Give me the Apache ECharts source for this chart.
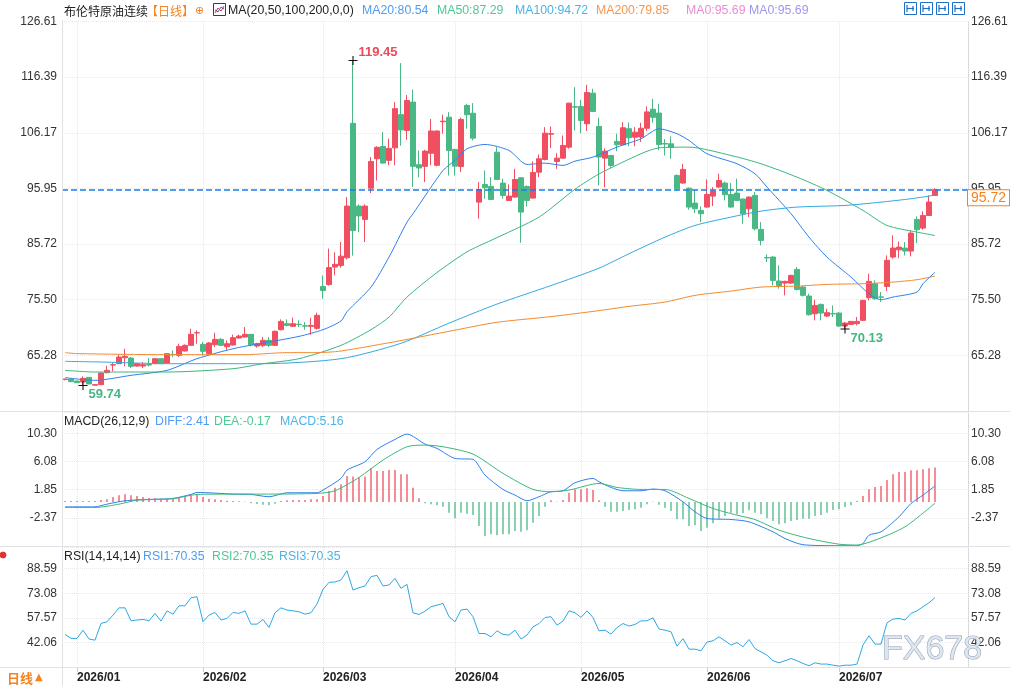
<!DOCTYPE html>
<html>
<head>
<meta charset="utf-8">
<title>布伦特原油连续</title>
<script src="https://cdn.jsdelivr.net/npm/echarts@6/dist/echarts.min.js"></script>
<style>
html, body { margin: 0; padding: 0; background: #fff; }
#chart { width: 1010px; height: 686px; }
</style>
</head>
<body>
<div id="chart"></div>
<script>
// trading days: weekdays 2025/12/30 .. 2026/07/23 minus exchange holidays
const holidays = ['2026/01/01', '2026/04/03'];
const padSlots = 5; // empty room right of the last bar

// [open, close, low, high]
const candles = [
  [60.85,60.90,60.70,61.00],[60.94,60.45,60.40,61.00],[60.57,60.26,60.20,60.60],[60.38,61.06,59.74,61.42],
  [61.24,60.02,60.00,61.30],[59.80,59.90,59.78,59.95],[59.89,62.04,59.85,62.10],[62.10,62.53,62.00,63.38],
  [63.50,63.57,62.34,63.87],[63.75,64.97,63.70,65.46],[64.85,65.10,63.26,66.50],[64.79,63.26,62.95,64.97],
  [63.32,63.75,63.20,63.80],[63.32,63.57,62.95,64.06],[63.60,63.50,63.26,64.79],[63.75,64.67,63.70,64.70],
  [64.67,63.75,63.70,64.70],[63.87,65.59,63.80,65.71],[65.45,65.40,64.97,66.20],[65.28,66.93,64.97,67.42],
  [66.08,67.12,66.00,67.30],[67.12,69.14,67.10,70.18],[69.40,69.44,67.42,69.87],[67.30,66.02,65.28,67.73],
  [65.59,67.55,65.28,67.73],[67.24,68.22,66.81,69.44],[68.22,67.12,67.10,68.46],[66.87,67.42,66.32,68.04],
  [67.18,68.53,67.10,69.08],[68.46,68.83,68.34,69.08],[68.65,69.14,68.53,70.48],[69.14,67.24,66.93,69.20],
  [66.99,67.42,66.69,67.61],[67.12,68.04,66.81,68.65],[68.04,67.12,66.81,68.65],[67.12,69.69,66.99,69.87],
  [69.99,71.52,69.87,71.89],[71.10,70.79,70.61,71.89],[70.61,71.10,70.48,72.20],[71.00,70.94,70.48,71.71],
  [70.70,70.65,69.99,71.40],[70.61,70.79,69.08,72.14],[70.24,72.63,69.99,73.12],[77.95,77.20,75.70,79.97],
  [78.30,81.40,78.10,84.90],[81.50,82.00,80.00,84.20],[81.80,83.50,81.40,86.10],[83.20,92.70,82.90,94.35],
  [107.90,88.20,83.60,119.45],[92.70,90.90,87.90,93.00],[90.25,92.70,86.10,93.00],[96.00,100.90,95.10,101.70],
  [101.40,103.50,97.40,103.70],[103.66,100.60,100.50,106.30],[101.10,103.30,100.20,105.10],[103.40,110.60,100.20,111.80],
  [109.50,106.70,103.80,118.96],[106.60,112.10,104.90,113.10],[111.80,100.00,96.20,114.10],[100.30,99.70,98.00,102.90],
  [100.00,102.80,97.10,103.05],[102.40,106.50,100.20,108.70],[100.20,106.50,100.00,106.60],[108.20,108.30,106.00,109.50],
  [109.04,102.92,98.30,109.96],[103.11,100.04,98.33,103.20],[99.98,108.62,98.94,108.93],[111.19,109.48,106.91,111.50],
  [109.77,105.18,104.76,111.61],[93.43,95.76,90.38,97.10],[96.68,96.07,94.05,99.25],[96.31,93.92,93.90,98.02],
  [102.60,97.59,97.50,103.53],[96.92,94.66,94.05,97.73],[93.74,94.54,93.70,96.68],[94.35,97.59,94.30,99.56],
  [97.90,91.60,85.97,98.00],[96.31,93.74,92.64,96.50],[94.17,98.88,94.10,100.90],[98.94,101.40,98.02,102.19],
  [101.27,106.10,101.09,107.20],[105.90,106.00,103.35,107.33],[100.90,101.51,99.56,102.43],[101.51,103.84,101.40,105.67],
  [103.53,111.61,103.23,111.70],[110.95,110.88,106.60,114.55],[111.00,108.43,106.10,112.23],[107.83,113.57,106.47,114.99],
  [113.45,110.09,110.00,114.25],[107.33,101.70,96.50,108.93],[101.51,102.79,96.19,103.30],[102.00,100.17,99.75,102.10],
  [104.58,103.97,102.79,105.99],[103.97,107.09,103.90,108.12],[106.91,105.26,103.71,108.06],[105.37,106.28,103.71,107.20],
  [105.40,107.00,104.50,108.00],[107.00,110.00,106.50,111.00],[110.50,109.00,108.00,112.40],[109.80,104.00,103.00,111.50],
  [104.20,104.10,102.00,105.00],[104.15,103.50,101.40,105.50],[98.33,95.88,95.50,98.50],[96.93,99.44,96.80,100.47],
  [96.00,92.52,92.03,96.10],[93.25,92.21,91.42,95.70],[91.90,91.30,89.76,92.64],[92.52,94.84,92.40,97.60],
  [94.54,95.46,92.70,96.19],[96.19,97.41,96.10,98.64],[96.93,94.78,93.74,97.20],[94.84,92.52,92.40,96.93],
  [95.09,93.74,93.60,97.72],[93.99,91.29,89.46,94.10],[92.21,94.35,90.68,94.50],[94.66,88.54,88.23,95.27],
  [88.42,86.40,85.48,89.76],[83.25,83.18,82.42,83.83],[83.34,79.05,78.13,83.50],[78.93,78.13,77.52,81.81],
  [78.56,78.87,76.30,79.00],[78.56,79.97,78.40,80.10],[81.07,77.40,77.20,81.50],[77.83,76.30,76.10,78.00],
  [76.18,72.75,72.60,76.60],[72.93,74.46,71.71,75.50],[74.64,73.05,71.71,74.80],[72.50,73.12,72.32,73.85],
  [72.96,72.90,72.32,74.46],[73.05,70.67,70.50,73.20],[70.67,71.22,70.13,71.40],[70.97,71.52,70.90,71.60],
  [71.10,71.52,70.79,72.32],[71.71,75.38,71.60,75.50],[75.87,78.87,75.38,80.28],[78.44,75.69,75.50,79.05],
  [76.02,75.96,75.07,76.91],[77.95,82.73,77.09,83.64],[83.34,84.99,83.03,87.32],[84.68,85.17,83.15,86.21],
  [84.99,84.44,83.64,86.09],[84.44,87.74,83.46,88.23],[90.25,88.36,85.91,90.80],[88.66,90.98,88.36,91.72],
  [90.98,93.44,90.90,94.66],[94.66,95.72,94.60,96.00]
];

// moving averages, read as [bar index, value] at points along each curve
const ma20Pts = [[0,61.19],[5,60.69],[11,61.61],[17,62.53],[22,64.67],[28,66.5],[33,67.54],[39,68.77],[43,70.0],
  [46,71.6],[47,73.3],[51,77.82],[54,83.33],[57,89.76],[58,91.3],[63,99.25],[65,101.09],[67,103.23],[70,104.02],
  [74,102.92],[77,100.35],[80,100.59],[83,100.17],[85,100.96],[88,101.7],[92,103.53],[96,105.07],[99,106.9],
  [102,106.0],[104,104.76],[107,102.32],[112,100.48],[115,98.64],[117,96.19],[121,91.3],[124,87.0],[127,83.33],
  [131,79.66],[134,76.61],[136,75.5],[138,75.99],[142,76.9],[143,78.44],[145,80.54]];
const ma50Pts = [[0,62.53],[5,62.22],[17,62.22],[28,62.83],[33,63.75],[39,64.67],[46,67.12],[51,70.0],[54,72.31],
  [57,75.99],[62,80.5],[67,84.3],[71,86.4],[79,90.68],[85,95.8],[89,98.6],[96,102.32],[99,103.4],[104,103.53],
  [111,102.0],[116,100.48],[122,98.02],[127,95.58],[133,91.9],[137,89.15],[142,87.92],[145,87.29]];
const ma100Pts = [[0,64.18],[6,64.06],[17,63.75],[33,63.75],[46,64.67],[56,67.5],[64,71.2],[72,74.7],[81,78.1],
  [89,81.3],[94,83.95],[100,87.0],[105,89.15],[111,90.68],[116,91.78],[122,92.52],[130,92.82],[136,93.43],
  [141,94.05],[145,94.72]];
const ma200Pts = [[0,65.78],[2,65.6],[17,65.41],[30,65.41],[37,65.78],[42,65.78],[46,66.08],[56,68.0],[64,69.7],
  [72,71.35],[81,72.4],[89,73.5],[94,74.28],[100,75.07],[105,76.3],[111,77.09],[116,77.82],[122,78.0],[127,78.32],
  [133,78.44],[138,78.74],[142,79.18],[145,79.85]];
const ma0Label = '95.69';

// MACD(26,12,9)
const macdHist = [
  0.15,0.15,0.15,0.15,0.15,0.15,0.31,0.41,0.76,1.0,1.16,1.0,0.91,0.76,0.61,0.56,0.51,0.51,0.61,0.76,
  0.91,1.0,1.16,0.76,0.51,0.41,0.31,0.2,0.16,0.1,0.05,-0.2,-0.3,-0.4,-0.5,-0.25,0.16,0.25,0.31,0.31,
  0.31,0.41,0.41,0.9,1.66,2.16,2.66,3.91,3.81,3.66,3.81,5.06,4.66,4.66,4.81,4.81,4.16,4.16,2.16,0.56,
  -0.2,-0.35,-0.5,-0.7,-1.6,-2.45,-1.6,-1.75,-1.95,-3.6,-5.1,-4.85,-5.0,-4.85,-4.85,-4.35,-4.45,-4.25,-3.1,-2.1,
  -0.7,0.26,0.05,0.31,1.41,1.91,1.91,2.06,1.81,0.26,-0.7,-1.45,-1.45,-1.35,-1.2,-1.1,-0.85,-0.35,0.05,-0.4,
  -0.85,-1.35,-2.6,-2.6,-3.6,-3.5,-4.35,-3.85,-3.2,-2.5,-2.1,-1.6,-1.85,-1.7,-1.25,-1.6,-1.85,-2.45,-2.85,-3.35,
  -3.2,-2.85,-2.7,-2.5,-2.5,-2.1,-1.95,-1.6,-1.2,-1.1,-0.75,-0.5,0.16,0.91,1.91,2.26,2.41,3.31,4.16,4.51,
  4.51,4.76,4.76,4.91,5.06,5.16
];
const diffPts = [[0,-0.72],[5,-0.72],[7,-0.32],[10,0.19],[14,0.39],[18,0.54],[21,1.14],[22,1.44],[28,1.19],
  [31,1.14],[34,0.79],[37,1.39],[42,1.39],[43,1.79],[46,3.54],[47,4.79],[50,6.04],[52,7.89],[55,9.39],[57,10.19],
  [60,8.69],[62,8.04],[65,6.54],[68,6.39],[70,4.04],[73,1.89],[75,1.04],[77,0.19],[79,0.79],[81,1.54],[83,1.69],
  [85,2.89],[88,3.54],[89,3.04],[91,2.19],[93,1.69],[96,1.69],[98,1.94],[100,1.69],[103,0.03],[105,-1.47],
  [107,-2.47],[111,-2.62],[114,-2.97],[118,-4.47],[120,-5.47],[123,-6.4],[129,-6.55],[132,-6.55],[133,-6.22],
  [134,-4.97],[136,-4.47],[139,-2.22],[141,-0.22],[143,1.04],[145,2.41]];
const deaPts = [[0,-0.82],[5,-0.82],[9,-0.32],[12,0.28],[18,0.49],[22,1.14],[28,1.19],[33,1.19],[42,1.29],
  [45,1.69],[49,3.69],[53,6.29],[57,8.29],[60,8.54],[63,8.29],[68,7.19],[73,4.29],[78,1.89],[81,1.54],[84,1.79],
  [89,2.79],[92,2.19],[96,1.89],[100,1.89],[104,0.54],[108,-0.97],[112,-1.97],[115,-2.62],[119,-4.22],
  [124,-5.47],[129,-6.32],[132,-6.45],[135,-5.72],[140,-3.72],[145,-0.17]];

// RSI(14)
const rsi = [
  47.1,44.6,44.6,49.8,44.2,43.5,54.0,55.1,59.3,63.9,63.9,55.7,56.2,56.6,55.7,60.4,55.5,62.0,59.9,65.2,
  65.2,70.3,70.9,55.1,59.3,61.0,56.2,57.2,61.0,60.4,62.0,53.6,53.6,56.6,51.5,60.8,63.9,62.5,62.0,61.4,
  59.9,60.8,66.3,75.5,80.0,80.2,81.5,87.3,75.1,76.6,77.7,83.6,84.4,77.7,78.3,82.5,76.2,78.7,60.8,59.7,
  61.8,64.6,65.6,66.7,58.3,55.1,62.5,63.1,58.3,47.7,47.7,45.6,49.4,47.1,46.7,49.8,44.2,46.7,51.9,54.0,
  57.8,58.3,53.0,55.5,62.0,60.8,57.8,62.0,57.8,49.4,49.8,47.3,51.5,54.0,52.4,53.4,55.7,55.7,57.6,50.5,
  49.8,48.8,39.7,44.4,37.8,37.8,36.8,42.3,43.1,45.6,43.1,40.4,42.0,39.3,43.9,38.2,36.1,34.0,30.5,29.2,
  30.5,31.9,30.5,28.8,27.3,29.2,28.4,28.4,27.7,27.1,27.7,27.7,28.4,40.4,46.3,41.0,41.0,54.5,56.8,57.2,
  56.2,60.4,62.0,64.6,67.1,70.35
];

// axis scales (labels run from min in steps of step)
const priceMin = 55.06, priceMax = 126.61, priceStep = 10.2214;
const macdMin = -6.5933, macdMax = 13.5, macdStep = 4.2233;
const rsiMin = 26.55, rsiMax = 102.3, rsiStep = 15.51;

// highest high and two swing lows that carry a price tag
const tagged = [[48, 'high'], [3, 'low'], [130, 'low']];

const UP = '#ef4f61', DOWN = '#49b884';
const FONT = 'Arial, "Liberation Sans", "Noto Sans CJK SC", sans-serif';
const HEAD = '12.3px ' + FONT;

function tradingDays() {
  const out = [];
  const d = new Date(2025, 11, 30);
  const end = new Date(2026, 6, 23);
  while (d <= end) {
    const s = d.getFullYear() + '/' + String(d.getMonth() + 1).padStart(2, '0') + '/' + String(d.getDate()).padStart(2, '0');
    const wd = d.getDay();
    if (wd !== 0 && wd !== 6 && holidays.indexOf(s) < 0) out.push(s);
    d.setDate(d.getDate() + 1);
  }
  return out;
}
const days = tradingDays();
const categories = days.concat(new Array(padSlots).fill(''));
const isMonthStart = (idx) => idx > 0 && idx < days.length && days[idx].slice(0, 7) !== days[idx - 1].slice(0, 7);

function sparse(pts) {
  const d = new Array(categories.length).fill(null);
  pts.forEach(p => { d[p[0]] = p[1]; });
  return d;
}

const chart = echarts.init(document.getElementById('chart'), null, { renderer: 'canvas' });

const gridLeft = 62, gridRight = 42;
const grids = [
  { left: gridLeft, right: gridRight, top: 21.5, height: 389.5, outerBoundsMode: 'none' },
  { left: gridLeft, right: gridRight, top: 412, height: 134, outerBoundsMode: 'none' },
  { left: gridLeft, right: gridRight, top: 547, height: 120, outerBoundsMode: 'none' }
];

function xAxisFor(gi) {
  return {
    type: 'category', gridIndex: gi, data: categories, boundaryGap: true,
    axisLine: { show: false },
    axisTick: { show: gi === 2, interval: isMonthStart, alignWithLabel: true, length: 5, lineStyle: { color: '#c8cdd3' } },
    axisLabel: {
      show: gi === 2, interval: isMonthStart, formatter: v => v.slice(0, 7),
      align: 'left', margin: 5, color: '#222', fontSize: 12, fontWeight: 'bold', fontFamily: FONT
    },
    splitLine: { show: true, interval: isMonthStart, alignWithLabel: true, lineStyle: { color: '#e3e6ea', type: 'dotted' } }
  };
}

function yAxisFor(gi, side, min, max, step, showMax) {
  return {
    type: 'value', gridIndex: gi, position: side, min: min, max: max, interval: step, scale: true,
    axisLine: side === 'right' ? { show: true, lineStyle: { color: '#cfd3d8', type: 'dotted' } } : { show: false },
    axisTick: { show: false },
    axisLabel: {
      formatter: v => v.toFixed(2), color: '#333', fontSize: 12, fontFamily: FONT,
      margin: side === 'right' ? 3 : 5, showMinLabel: false, showMaxLabel: showMax
    },
    splitLine: { show: side === 'left', lineStyle: { color: '#e6e8eb', type: 'dotted' } }
  };
}

function maSeries(name, pts, color) {
  return {
    name: name, type: 'line', xAxisIndex: 0, yAxisIndex: 0, data: sparse(pts),
    connectNulls: true, showSymbol: false, smooth: 0.25, silent: true,
    lineStyle: { color: color, width: 1 }, z: 3
  };
}

const lastClose = candles[candles.length - 1][1];
const markData = tagged.map(([i, kind]) => {
  const v = kind === 'high' ? candles[i][3] : candles[i][2];
  return {
    coord: [i, v], value: v.toFixed(2),
    label: {
      show: true, position: 'right', distance: 1, offset: [0, kind === 'high' ? -8 : 9],
      formatter: v.toFixed(2), color: kind === 'high' ? '#ec4a5a' : '#46b682',
      fontSize: 13, fontWeight: 'bold', fontFamily: FONT
    }
  };
});

const lastOf = pts => pts[pts.length - 1][1].toFixed(2);

function txt(x, y, text, fill, font, extra) {
  return Object.assign({
    type: 'text', x: x, y: y, silent: true, z: 50,
    style: { text: text, fill: fill, font: font || HEAD, textVerticalAlign: 'middle' }
  }, extra || {});
}
function hline(y) {
  return { type: 'line', silent: true, z: 40, shape: { x1: 0, y1: y, x2: 1010, y2: y }, style: { stroke: '#dfe3e8', lineWidth: 1 } };
}
function toolBox(x) {
  return {
    type: 'group', x: x, y: 2, silent: true, z: 50,
    children: [
      { type: 'rect', shape: { x: 0.5, y: 0.5, width: 12, height: 12 }, style: { fill: '#fff', stroke: '#1f6fc5', lineWidth: 1 } },
      { type: 'line', shape: { x1: 3, y1: 3, x2: 3, y2: 10 }, style: { stroke: '#1f6fc5', lineWidth: 1.2 } },
      { type: 'line', shape: { x1: 3, y1: 6.5, x2: 10, y2: 6.5 }, style: { stroke: '#1f6fc5', lineWidth: 1.2 } },
      { type: 'line', shape: { x1: 9, y1: 4, x2: 9, y2: 9 }, style: { stroke: '#1f6fc5', lineWidth: 1.2 } }
    ]
  };
}

const graphics = [
  hline(411.5), hline(546.5), hline(667.5),
  { type: 'line', silent: true, z: 40, shape: { x1: 62.5, y1: 20, x2: 62.5, y2: 686 }, style: { stroke: '#dfe3e8', lineWidth: 1 } },
  // title row
  txt(64, 11, '布伦特原油连续', '#222', '12px "Noto Sans CJK SC", sans-serif'),
  txt(146, 11, '【日线】', '#f5831f', '12px "Noto Sans CJK SC", sans-serif'),
  txt(195, 11, '⊕', '#f5831f', '11px "DejaVu Sans", sans-serif'),
  { type: 'group', x: 213, y: 3, silent: true, z: 50, children: [
      { type: 'rect', shape: { x: 0.5, y: 0.5, width: 12, height: 12 }, style: { fill: '#fff', stroke: '#1c3d8c', lineWidth: 1 } },
      { type: 'polyline', shape: { points: [[2, 10], [5, 5], [8, 8], [11, 3]] }, style: { stroke: '#e0303c', fill: null, lineWidth: 1 } },
      { type: 'polyline', shape: { points: [[2, 7], [5, 9], [8, 4], [11, 6]] }, style: { stroke: '#2d6bd8', fill: null, lineWidth: 1 } }
  ] },
  txt(228, 11, 'MA(20,50,100,200,0,0)', '#222'),
  txt(362, 11, 'MA20:' + lastOf(ma20Pts), '#4e9cf3'),
  txt(437, 11, 'MA50:' + lastOf(ma50Pts), '#4ec995'),
  txt(515, 11, 'MA100:' + lastOf(ma100Pts), '#4cb3e6'),
  txt(596, 11, 'MA200:' + lastOf(ma200Pts), '#f7964f'),
  txt(686, 11, 'MA0:' + ma0Label, '#ee8ad4'),
  txt(749, 11, 'MA0:' + ma0Label, '#9d97ee'),
  toolBox(904), toolBox(920), toolBox(936), toolBox(952),
  // MACD row
  txt(64, 422, 'MACD(26,12,9)', '#222'),
  txt(155, 422, 'DIFF:' + lastOf(diffPts), '#4e9cf3'),
  txt(214, 422, 'DEA:' + lastOf(deaPts), '#4ec995'),
  txt(280, 422, 'MACD:' + macdHist[macdHist.length - 1].toFixed(2), '#4cb3e6'),
  // RSI row
  txt(64, 557, 'RSI(14,14,14)', '#222'),
  txt(143, 557, 'RSI1:' + rsi[rsi.length - 1].toFixed(2), '#4e9cf3'),
  txt(212, 557, 'RSI2:' + rsi[rsi.length - 1].toFixed(2), '#4ec995'),
  txt(279, 557, 'RSI3:' + rsi[rsi.length - 1].toFixed(2), '#4cb3e6'),
  { type: 'circle', silent: true, z: 50, shape: { cx: 3, cy: 555, r: 3 }, style: { fill: '#e53030', stroke: '#e53030' } },
  // bottom left
  txt(7, 678, '日线', '#f5831f', 'bold 13px "Noto Sans CJK SC", sans-serif'),
  txt(35, 677, '▲', '#f5831f', '10px "DejaVu Sans", sans-serif'),
  // watermark
  { type: 'text', x: 882, y: 650, silent: true, z: 60,
    style: { text: 'FX678', font: '34px Arial, "Liberation Sans", sans-serif', fill: 'rgba(222,229,238,0.92)',
             stroke: '#8c9fb6', lineWidth: 1, textVerticalAlign: 'middle' } }
];

const option = {
  animation: false,
  backgroundColor: '#fff',
  grid: grids,
  xAxis: [xAxisFor(0), xAxisFor(1), xAxisFor(2)],
  yAxis: [
    yAxisFor(0, 'left', priceMin, priceMax, priceStep, true),
    yAxisFor(0, 'right', priceMin, priceMax, priceStep, true),
    yAxisFor(1, 'left', macdMin, macdMax, macdStep, false),
    yAxisFor(1, 'right', macdMin, macdMax, macdStep, false),
    yAxisFor(2, 'left', rsiMin, rsiMax, rsiStep, false),
    yAxisFor(2, 'right', rsiMin, rsiMax, rsiStep, false)
  ],
  series: [
    {
      name: '布伦特原油连续', type: 'candlestick', xAxisIndex: 0, yAxisIndex: 0, data: candles,
      barWidth: 5, silent: true,
      itemStyle: { color: UP, color0: DOWN, borderColor: UP, borderColor0: DOWN, borderWidth: 1 },
      markLine: {
        silent: true, symbol: 'none', animation: false,
        data: [{ yAxis: lastClose }],
        lineStyle: { color: '#1a7ee6', type: 'dashed', width: 1.5 },
        label: {
          show: true, position: 'end', distance: 0, offset: [0, 8],
          formatter: lastClose.toFixed(2), color: '#f5821f', fontSize: 14, fontFamily: FONT,
          backgroundColor: '#fff', borderColor: '#f5821f', borderWidth: 1, padding: [1, 3, 0, 3]
        }
      },
      markPoint: {
        silent: true, animation: false,
        symbol: 'path://M4.4,0H5.6V4.4H10V5.6H5.6V10H4.4V5.6H0V4.4H4.4Z', symbolSize: 9,
        itemStyle: { color: '#111' },
        data: markData
      }
    },
    maSeries('MA20', ma20Pts, '#2f80ed'),
    maSeries('MA50', ma50Pts, '#3cb77c'),
    maSeries('MA100', ma100Pts, '#35a9e1'),
    maSeries('MA200', ma200Pts, '#f28b30'),
    {
      name: 'MACD', type: 'bar', xAxisIndex: 1, yAxisIndex: 2, barWidth: 1.3, silent: true,
      data: macdHist.map(v => ({ value: v, itemStyle: { color: v >= 0 ? UP : DOWN } }))
    },
    {
      name: 'DIFF', type: 'line', xAxisIndex: 1, yAxisIndex: 2, data: sparse(diffPts), connectNulls: true,
      showSymbol: false, smooth: 0.25, silent: true, lineStyle: { color: '#2f80ed', width: 1 }
    },
    {
      name: 'DEA', type: 'line', xAxisIndex: 1, yAxisIndex: 2, data: sparse(deaPts), connectNulls: true,
      showSymbol: false, smooth: 0.25, silent: true, lineStyle: { color: '#3cb77c', width: 1 }
    },
    {
      name: 'RSI', type: 'line', xAxisIndex: 2, yAxisIndex: 4, data: rsi,
      showSymbol: false, silent: true, lineStyle: { color: '#2fa8e4', width: 1 }
    }
  ],
  graphic: graphics
};

chart.setOption(option);
</script>
</body>
</html>
